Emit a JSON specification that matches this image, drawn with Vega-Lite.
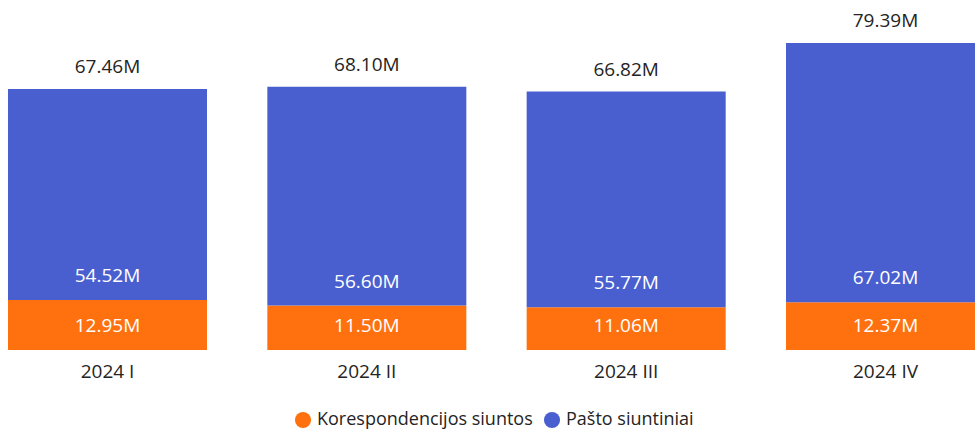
{
  "$schema": "https://vega.github.io/schema/vega-lite/v6.json",
  "autosize": "none",
  "padding": {"left": 0, "top": 0, "right": 0, "bottom": 81},
  "width": 993,
  "height": 350,
  "background": "white",
  "data": {
    "values": [
      {"quarter": "2024 I", "Korespondencijos siuntos": 12950000, "Pašto siuntiniai": 54520000, "total": 67460000},
      {"quarter": "2024 II", "Korespondencijos siuntos": 11500000, "Pašto siuntiniai": 56600000, "total": 68100000},
      {"quarter": "2024 III", "Korespondencijos siuntos": 11060000, "Pašto siuntiniai": 55770000, "total": 66820000},
      {"quarter": "2024 IV", "Korespondencijos siuntos": 12370000, "Pašto siuntiniai": 67020000, "total": 79390000}
    ]
  },
  "encoding": {
    "x": {
      "field": "quarter",
      "type": "nominal",
      "sort": ["2024 I", "2024 II", "2024 III", "2024 IV"],
      "scale": {"paddingInner": 0.2326, "paddingOuter": 0.0308},
      "axis": {
        "title": null,
        "domain": false,
        "ticks": false,
        "labelAngle": 0,
        "labelPadding": 12,
        "labelFontSize": 19,
        "labelFont": "Open Sans",
        "labelColor": "#252423"
      }
    }
  },
  "layer": [
    {
      "transform": [
        {"fold": ["Korespondencijos siuntos", "Pašto siuntiniai"], "as": ["series", "value"]}
      ],
      "mark": {"type": "bar"},
      "encoding": {
        "y": {
          "field": "value",
          "type": "quantitative",
          "stack": "zero",
          "scale": {"domain": [0, 90500000], "nice": false, "zero": true},
          "axis": null
        },
        "color": {
          "field": "series",
          "type": "nominal",
          "scale": {
            "domain": ["Korespondencijos siuntos", "Pašto siuntiniai"],
            "range": ["#FF710F", "#4A5FCF"]
          },
          "legend": {
            "title": null,
            "orient": "none",
            "direction": "horizontal",
            "legendX": 294,
            "legendY": 411,
            "symbolType": "circle",
            "symbolSize": 260,
            "symbolStrokeWidth": 0,
            "symbolOpacity": 1,
            "labelFont": "Open Sans",
            "labelFontSize": 18,
            "labelColor": "#252423",
            "labelLimit": 400,
            "labelOffset": 5,
            "columnPadding": 10
          }
        },
        "order": {"field": "series", "sort": "ascending"}
      }
    },
    {
      "mark": {"type": "text", "baseline": "alphabetic", "dy": -16, "font": "Open Sans", "fontSize": 19, "color": "#252423"},
      "encoding": {
        "y": {"field": "total", "type": "quantitative", "scale": {"domain": [0, 90500000], "nice": false}},
        "text": {"field": "total", "type": "quantitative", "format": ".4s"}
      }
    },
    {
      "mark": {"type": "text", "baseline": "alphabetic", "dy": -18, "font": "Open Sans", "fontSize": 19, "color": "white"},
      "encoding": {
        "y": {"field": "Korespondencijos siuntos", "type": "quantitative", "scale": {"domain": [0, 90500000], "nice": false}},
        "text": {"field": "Pašto siuntiniai", "type": "quantitative", "format": ".4s"}
      }
    },
    {
      "mark": {"type": "text", "baseline": "alphabetic", "dy": -18, "font": "Open Sans", "fontSize": 19, "color": "white"},
      "encoding": {
        "y": {"datum": 0, "type": "quantitative", "scale": {"domain": [0, 90500000], "nice": false}},
        "text": {"field": "Korespondencijos siuntos", "type": "quantitative", "format": ".4s"}
      }
    }
  ],
  "config": {
    "view": {"stroke": null}
  }
}
